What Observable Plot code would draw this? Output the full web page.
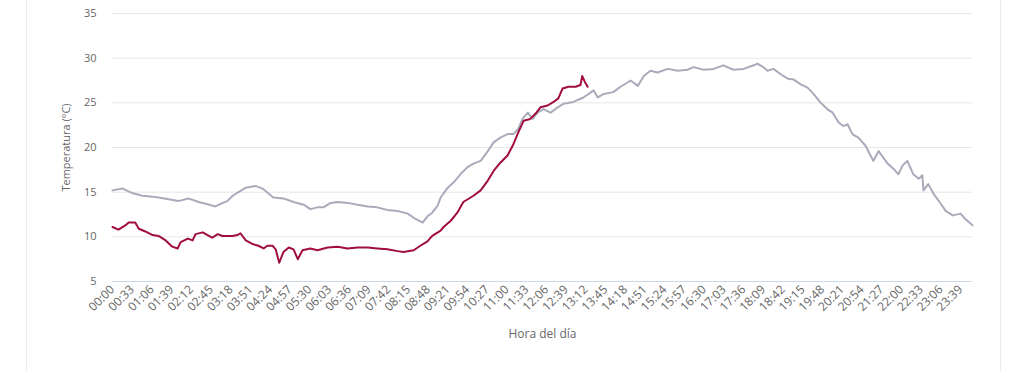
<!DOCTYPE html>
<html><head><meta charset="utf-8">
<script src="https://cdn.jsdelivr.net/npm/d3@7"></script>
<script src="https://cdn.jsdelivr.net/npm/@observablehq/plot@0.6"></script>
<style>
html,body{margin:0;padding:0;background:#fff;overflow:hidden;}
#card{position:absolute;left:26px;top:-2px;width:973px;height:380px;border-left:1px solid #ececec;border-right:1px solid #ececec;}
#chart{position:absolute;left:0;top:0;}
</style></head><body><div id="card"></div><div id="chart"></div>
<script>
const tickLabels = ["00:00","00:33","01:06","01:39","02:12","02:45","03:18","03:51","04:24","04:57","05:30","06:03","06:36","07:09","07:42","08:15","08:48","09:21","09:54","10:27","11:00","11:33","12:06","12:39","13:12","13:45","14:18","14:51","15:24","15:57","16:30","17:03","17:36","18:09","18:42","19:15","19:48","20:21","20:54","21:27","22:00","22:33","23:06","23:39"];
const yTicks = [5, 10, 15, 20, 25, 30, 35];

const greyTimes = ["00:00","00:17","00:33","00:50","01:07","01:17","01:34","01:50","02:07","02:24","02:36","02:52","03:01","03:12","03:21","03:31","03:43","03:59","04:11","04:29","04:46","05:03","05:20","05:31","05:43","05:53","06:05","06:17","06:33","06:50","07:07","07:23","07:40","07:57","08:14","08:27","08:39","08:47","08:55","09:04","09:09","09:21","09:31","09:42","09:54","10:04","10:16","10:28","10:38","10:49","11:01","11:11","11:19","11:26","11:35","11:43","11:51","12:01","12:13","12:25","12:35","12:51","13:08","13:25","13:32","13:42","13:58","14:10","14:27","14:39","14:49","15:00","15:12","15:29","15:46","16:02","16:12","16:29","16:46","17:02","17:19","17:36","17:53","17:59","18:09","18:16","18:26","18:38","18:50","19:00","19:11","19:23","19:33","19:45","19:56","20:05","20:15","20:23","20:30","20:38","20:48","21:00","21:03","21:13","21:22","21:37","21:47","21:55","22:02","22:10","22:20","22:29","22:35","22:37","22:45","22:54","23:06","23:14","23:26","23:39","23:47","23:59"];
const greyValues = [15.2,15.4,14.9,14.6,14.5,14.4,14.2,14.0,14.3,13.9,13.7,13.4,13.7,14.0,14.6,15.0,15.5,15.7,15.4,14.4,14.3,13.9,13.6,13.1,13.3,13.3,13.8,13.9,13.8,13.6,13.4,13.3,13.0,12.9,12.6,12.0,11.6,12.3,12.7,13.5,14.4,15.5,16.1,17.0,17.8,18.2,18.5,19.6,20.6,21.1,21.5,21.5,22.1,23.2,23.9,23.2,23.9,24.3,23.9,24.5,24.9,25.1,25.6,26.4,25.6,26.0,26.2,26.8,27.5,26.9,28.0,28.6,28.4,28.8,28.6,28.7,29.0,28.7,28.8,29.2,28.7,28.8,29.2,29.4,29.0,28.6,28.8,28.2,27.7,27.6,27.1,26.7,26.0,25.0,24.3,23.9,22.8,22.4,22.6,21.5,21.1,20.2,19.8,18.5,19.6,18.2,17.6,17.0,18.0,18.5,17.0,16.5,16.9,15.2,15.9,14.8,13.7,12.9,12.4,12.6,12.0,11.3];

const redTimes = ["00:00","00:10","00:22","00:27","00:38","00:44","00:55","01:07","01:17","01:29","01:40","01:49","01:54","02:06","02:14","02:19","02:31","02:39","02:47","02:56","03:04","03:12","03:21","03:29","03:34","03:43","03:54","04:04","04:13","04:19","04:28","04:33","04:39","04:46","04:55","05:03","05:10","05:18","05:31","05:43","06:00","06:17","06:33","06:50","07:07","07:23","07:40","07:57","08:07","08:24","08:35","08:47","08:55","09:09","09:14","09:26","09:37","09:47","10:04","10:16","10:28","10:38","10:49","11:01","11:11","11:19","11:28","11:39","11:48","11:56","12:08","12:18","12:26","12:33","12:43","12:55","13:03","13:06","13:10","13:15"];
const redValues = [11.1,10.8,11.3,11.6,11.6,10.9,10.6,10.2,10.1,9.6,8.9,8.7,9.4,9.8,9.6,10.3,10.5,10.2,9.9,10.3,10.1,10.1,10.1,10.2,10.4,9.6,9.2,9.0,8.7,9.0,9.0,8.6,7.1,8.3,8.8,8.6,7.5,8.5,8.7,8.5,8.8,8.9,8.7,8.8,8.8,8.7,8.6,8.4,8.3,8.5,9.0,9.5,10.1,10.7,11.1,11.8,12.7,13.9,14.6,15.2,16.3,17.4,18.3,19.1,20.4,21.7,23.0,23.2,23.8,24.5,24.7,25.1,25.5,26.6,26.8,26.8,27.0,28.0,27.4,26.8];

const toMin = s => { const [h, m] = s.split(":").map(Number); return h * 60 + m; };
const fmt = m => String(Math.floor(m / 60)).padStart(2, "0") + ":" + String(m % 60).padStart(2, "0");
const greyRows = greyTimes.map((t, i) => ({t: toMin(t), v: greyValues[i]}));
const redRows = redTimes.map((t, i) => ({t: toMin(t), v: redValues[i]}));

const chart = Plot.plot({
  width: 1024, height: 371,
  marginLeft: 112, marginRight: 52, marginTop: 13, marginBottom: 90,
  style: {fontFamily: "'Open Sans', sans-serif", fontSize: "11px", color: "#666", background: "transparent"},
  x: {domain: [0, 1439]},
  y: {domain: [5, 35]},
  marks: [
    Plot.ruleY(yTicks.filter(d => d > 5), {stroke: "#e6e6e6", strokeWidth: 1}),
    Plot.ruleY([5], {stroke: "#ccd6eb", strokeWidth: 1}),
    Plot.axisY({ticks: yTicks, tickSize: 0, tickPadding: 16, label: "Temperatura (°C)", labelAnchor: "center", labelOffset: 50, labelArrow: "none"}),
    Plot.axisX({ticks: tickLabels.map(toMin), tickFormat: fmt, tickRotate: -45, tickSize: 0, tickPadding: 6, fontSize: 12, label: null}),
    Plot.axisX({ticks: [], tickSize: 0, label: "Hora del día", labelAnchor: "center", labelOffset: 56, labelArrow: "none", fontSize: 12}),
    Plot.line(greyRows, {x: "t", y: "v", stroke: "#a9abbb", strokeWidth: 2}),
    Plot.line(redRows, {x: "t", y: "v", stroke: "#a00d3e", strokeWidth: 2})
  ]
});
document.getElementById("chart").appendChild(chart);
</script>
</body></html>
